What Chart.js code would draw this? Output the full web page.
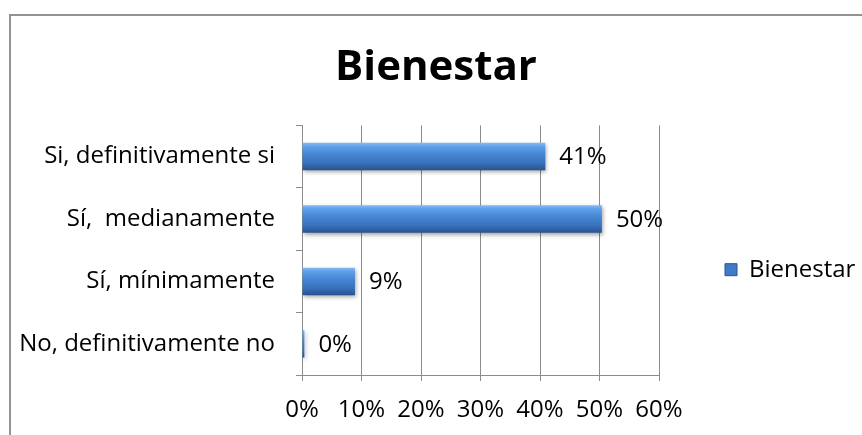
<!DOCTYPE html>
<html>
<head>
<meta charset="utf-8">
<script src="https://cdn.jsdelivr.net/npm/chart.js@4/dist/chart.umd.min.js"></script>
<style>
  body { margin: 0; background: #fff; }
  #wrap { position: relative; width: 862px; height: 435px; overflow: hidden; }
  #frame { position: absolute; left: 9px; top: 14px; width: 900px; height: 500px; border: 2px solid #939393; box-sizing: border-box; }
  #chart { position: absolute; left: 0; top: 0; }
</style>
</head>
<body>
<div id="wrap">
  <div id="frame"></div>
  <canvas id="chart" width="862" height="435"></canvas>
</div>
<script>
// datos
const categories = ["Si, definitivamente si", "Sí,  medianamente", "Sí, mínimamente", "No, definitivamente no"];
const values = [40.9, 50.4, 8.9, 0.4];
const seriesName = "Bienestar";
const xTicks = [0, 10, 20, 30, 40, 50, 60];

const FONT = "'Open Sans', sans-serif";
const BAR_PCT = 0.44;

// degradado tipo bisel para cada barra
const barGradient = (context) => {
  const chart = context.chart;
  const y = chart.scales.y;
  if (!y || context.dataIndex === undefined) return "#4a86cf";
  const band = (y.bottom - y.top) / categories.length;
  const mid = y.getPixelForValue(context.dataIndex);
  const half = (band * BAR_PCT) / 2;
  const g = chart.ctx.createLinearGradient(0, mid - half, 0, mid + half);
  g.addColorStop(0, "#86bbf2");
  g.addColorStop(0.12, "#62a2ea");
  g.addColorStop(0.4, "#4787d5");
  g.addColorStop(0.75, "#3870bb");
  g.addColorStop(1, "#28528c");
  return g;
};

// sombra debajo de las barras
const barShadow = {
  id: "barShadow",
  beforeDatasetDraw(chart) {
    const ctx = chart.ctx;
    ctx.save();
    ctx.shadowColor = "rgba(0,0,0,0.35)";
    ctx.shadowBlur = 4;
    ctx.shadowOffsetX = 1;
    ctx.shadowOffsetY = 2;
  },
  afterDatasetDraw(chart) {
    chart.ctx.restore();
  },
};

// etiquetas de valor al final de cada barra
const valueLabels = {
  id: "valueLabels",
  afterDatasetsDraw(chart) {
    const ctx = chart.ctx;
    const meta = chart.getDatasetMeta(0);
    ctx.save();
    ctx.font = "24px " + FONT;
    ctx.fillStyle = "#000";
    ctx.textAlign = "left";
    ctx.textBaseline = "middle";
    meta.data.forEach((bar, i) => {
      ctx.fillText(Math.round(values[i]) + "%", bar.x + 14, bar.y + 1);
    });
    ctx.restore();
  },
};

new Chart(document.getElementById("chart"), {
  type: "bar",
  data: {
    labels: categories,
    datasets: [
      {
        label: seriesName,
        data: values,
        backgroundColor: barGradient,
        borderWidth: 0,
        categoryPercentage: 1,
        barPercentage: BAR_PCT,
      },
    ],
  },
  options: {
    indexAxis: "y",
    responsive: false,
    animation: false,
    devicePixelRatio: 1,
    layout: { padding: { left: 10, right: 0, top: 0, bottom: 0 } },
    plugins: {
      title: {
        display: true,
        text: "Bienestar",
        color: "#000",
        font: { family: FONT, size: 42, weight: "bold" },
        padding: { top: 43, bottom: 32 },
      },
      legend: {
        position: "right",
        maxWidth: 203,
        title: { display: true, text: "", padding: { top: 45, bottom: 45 }, font: { size: 12 } },
        labels: {
          color: "#000",
          font: { family: FONT, size: 24 },
          boxWidth: 12,
          boxHeight: 12,
          padding: 66,
          generateLabels: () => [
            { text: seriesName, fillStyle: "#3f7bc6", strokeStyle: "#2a5690", fontColor: "#000", lineWidth: 1, datasetIndex: 0 },
          ],
        },
      },
      tooltip: { enabled: false },
    },
    scales: {
      x: {
        min: 0,
        max: 60,
        afterBuildTicks: (s) => { s.ticks = xTicks.map((v) => ({ value: v })); },
        afterFit: (s) => { s.height = 60; },
        grid: { color: "#8c8c8c", lineWidth: 1, tickLength: 6 },
        border: { color: "#8c8c8c" },
        ticks: {
          color: "#000",
          font: { family: FONT, size: 24 },
          padding: 15,
          callback: (v) => v + "%",
        },
      },
      y: {
        afterFit: (s) => { s.width = 292; },
        grid: { drawOnChartArea: false, color: "#8c8c8c", tickLength: 6, offset: true },
        border: { color: "#8c8c8c" },
        ticks: {
          color: "#000",
          font: { family: FONT, size: 24 },
          padding: 21,
        },
      },
    },
  },
  plugins: [barShadow, valueLabels],
});
</script>
</body>
</html>
